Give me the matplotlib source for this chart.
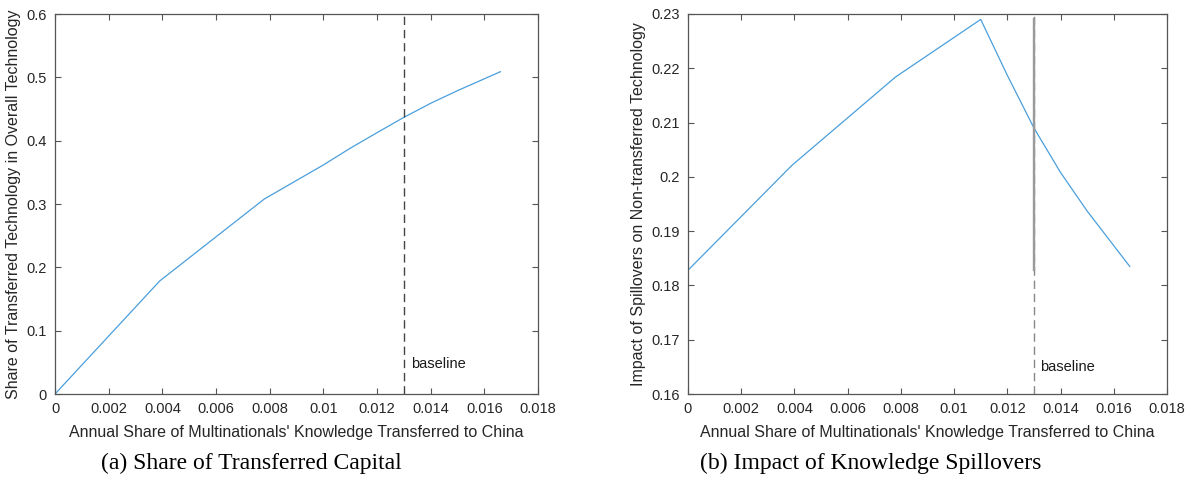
import matplotlib
matplotlib.use("Agg")
import matplotlib.pyplot as plt

# ---- data ----
x_left = [0, 0.0039, 0.0078, 0.010, 0.011, 0.012, 0.013, 0.014, 0.015, 0.0166]
y_left = [0, 0.1784, 0.3079, 0.3616, 0.388, 0.4126, 0.4368, 0.459, 0.479, 0.5089]

x_right = [0, 0.0039, 0.0078, 0.011, 0.012, 0.013, 0.014, 0.015, 0.0166]
y_right = [0.1828, 0.2021, 0.2184, 0.2290, 0.2187, 0.2090, 0.2008, 0.1937, 0.1835]

baseline_x = 0.013
xticks = [0, 0.002, 0.004, 0.006, 0.008, 0.01, 0.012, 0.014, 0.016, 0.018]
xtick_labels = ['0', '0.002', '0.004', '0.006', '0.008', '0.01', '0.012', '0.014', '0.016', '0.018']
yticks_left = [0, 0.1, 0.2, 0.3, 0.4, 0.5, 0.6]
yticks_left_labels = ['0', '0.1', '0.2', '0.3', '0.4', '0.5', '0.6']
yticks_right = [0.16, 0.17, 0.18, 0.19, 0.2, 0.21, 0.22, 0.23]
yticks_right_labels = ['0.16', '0.17', '0.18', '0.19', '0.2', '0.21', '0.22', '0.23']

xlabel = "Annual Share of Multinationals' Knowledge Transferred to China"
ylabel_left = "Share of Transferred Technology in Overall Technology"
ylabel_right = "Impact of Spillovers on Non-transferred Technology"
caption_left = "(a) Share of Transferred Capital"
caption_right = "(b) Impact of Knowledge Spillovers"

plt.rcParams['font.family'] = ['Liberation Sans', 'DejaVu Sans']

W, H = 1193, 488
fig = plt.figure(figsize=(W / 100, H / 100), dpi=100)

def rect(x0, x1, y0, y1):
    return [x0 / W, 1 - y1 / H, (x1 - x0) / W, (y1 - y0) / H]

ax1 = fig.add_axes(rect(55, 538, 14, 394))
ax2 = fig.add_axes(rect(688, 1167, 14, 394))

line_color = '#4a9fdc'
tick_color = '#262626'
spine_color = '#555555'

def style(ax):
    for s in ax.spines.values():
        s.set_color(spine_color)
        s.set_linewidth(0.9)
    ax.tick_params(direction='in', top=True, right=True, length=4, width=0.8,
                   color=spine_color, labelsize=10.5, labelcolor=tick_color, pad=6)
    ax.set_xticks(xticks)
    ax.set_xticklabels(xtick_labels)
    ax.set_xlim(0, 0.018)
    ax.set_xlabel(xlabel, fontsize=11.5, color=tick_color, labelpad=6)

# Left panel
ax1.plot(x_left, y_left, color=line_color, lw=0.9)
ax1.axvline(baseline_x, color='#444444', lw=1.0, ls=(0, (6, 3.5)))
ax1.set_ylim(0, 0.6)
ax1.set_yticks(yticks_left)
ax1.set_yticklabels(yticks_left_labels)
style(ax1)
ax1.set_ylabel(ylabel_left, fontsize=11.5, color=tick_color, labelpad=4)
ax1.text(0.01327, 0.048, 'baseline', fontsize=10.5, color='#1a1a1a', va='center', ha='left')

# Right panel
ax2.plot(x_right, y_right, color=line_color, lw=0.9)
ax2.axvline(baseline_x, color='#888888', lw=1.0, ls=(0, (6, 3.5)))
ax2.plot([baseline_x, baseline_x], [min(y_right), max(y_right)], color='#9a9a9a', lw=1.7)
ax2.set_ylim(0.16, 0.23)
ax2.set_yticks(yticks_right)
ax2.set_yticklabels(yticks_right_labels)
style(ax2)
ax2.set_ylabel(ylabel_right, fontsize=11.5, color=tick_color, labelpad=4)
ax2.text(0.01322, 0.1649, 'baseline', fontsize=10.5, color='#1a1a1a', va='center', ha='left')

# Captions
fig.text(251 / W, 1 - 463 / H, caption_left, fontsize=17, family='Liberation Serif',
         ha='center', va='center', color='black')
fig.text(871 / W, 1 - 463 / H, caption_right, fontsize=17, family='Liberation Serif',
         ha='center', va='center', color='black')

fig.savefig('out.png', dpi=100)
